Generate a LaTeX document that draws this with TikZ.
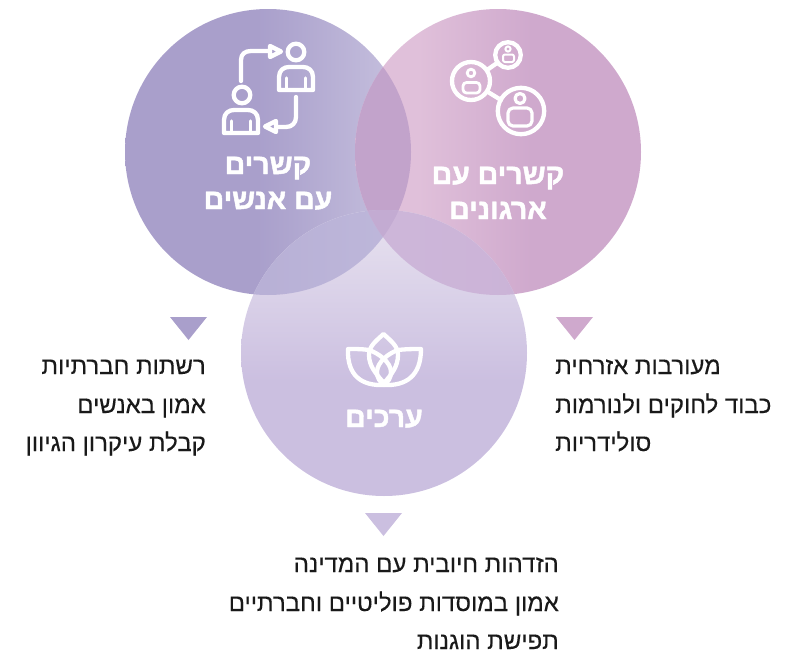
\documentclass[tikz,border=0pt]{standalone}
\usepackage{fontspec}
\setmainfont[Script=Hebrew,FakeBold=0.25]{Liberation Sans}
\newfontfamily\headfont[Script=Hebrew,FakeBold=1.6]{Liberation Sans Bold}
\TeXXeTstate=1
\usetikzlibrary{calc}
\definecolor{leftA}{HTML}{A99FCB}
\definecolor{leftM}{HTML}{AFA6CF}
\definecolor{leftB}{HTML}{C6C0DE}
\definecolor{rightA}{HTML}{E0C0DA}
\definecolor{rightB}{HTML}{CFA9CD}
\definecolor{botA}{HTML}{E8E3F0}
\definecolor{botB}{HTML}{CBBFE0}
\definecolor{ovLR}{HTML}{C2A3CB}
\definecolor{ovLBa}{HTML}{C3BEDF}
\definecolor{ovLBb}{HTML}{B7AFD5}
\definecolor{ovRBa}{HTML}{CFBADC}
\definecolor{ovRBb}{HTML}{CBB3D7}
\definecolor{ovAll}{HTML}{C3ABD2}
\pgfdeclarehorizontalshading{leftsh}{100bp}{color(0bp)=(leftA); color(25bp)=(leftA); color(48bp)=(leftA); color(54bp)=(leftM); color(73bp)=(leftB); color(100bp)=(leftB)}
\pgfdeclarehorizontalshading{rightsh}{100bp}{color(0bp)=(rightA); color(25bp)=(rightA); color(36bp)=(rightA); color(56bp)=(rightB); color(100bp)=(rightB)}
\pgfdeclareverticalshading{botsh}{100bp}{color(0bp)=(botB); color(25bp)=(botB); color(45bp)=(botB); color(75bp)=(botA); color(100bp)=(botA)}
\pgfdeclarehorizontalshading{lbsh}{100bp}{color(0bp)=(ovLBb); color(25bp)=(ovLBb); color(75bp)=(ovLBa); color(100bp)=(ovLBa)}
\pgfdeclarehorizontalshading{rbsh}{100bp}{color(0bp)=(ovRBa); color(25bp)=(ovRBa); color(75bp)=(ovRBb); color(100bp)=(ovRBb)}
\tikzset{
  x=1pt,y=-1pt,
  head/.style={font=\headfont\fontsize{28.5}{28.5}\selectfont,text=white,inner sep=0pt,anchor=base},
  body/.style={font=\fontsize{24}{24}\selectfont,text=black!90,inner sep=0pt},
  iconline/.style={draw=white,line width=4.3pt,line cap=round,line join=round,fill=none},
  thinicon/.style={iconline,line width=#1},
}
\newcommand{\personicon}[4]{%
  % #1 head x, #2 head y, #3 body centre x, #4 body top y
  \draw[iconline] (#1,#2) circle[radius=8.3];
  \draw[iconline] ({#3-17},{#4+23}) -- ({#3-17},{#4+10}) .. controls ({#3-17},{#4+3}) and ({#3-12},{#4}) .. ({#3-7},{#4}) -- ({#3+7},{#4}) .. controls ({#3+12},{#4}) and ({#3+17},{#4+3}) .. ({#3+17},{#4+10}) -- ({#3+17},{#4+23}) -- cycle;
  \draw[thinicon=3.4pt] ({#3-9.5},{#4+11}) -- ({#3-9.5},{#4+23}) ({#3+9.5},{#4+11}) -- ({#3+9.5},{#4+23});
}
\begin{document}
\begin{tikzpicture}
\useasboundingbox (0,0) rectangle (785,653);
\coordinate (L) at (268,152);
\coordinate (R) at (498,152);
\coordinate (B) at (384,353);
\def\rr{143}
\shade[shading=leftsh] (L) circle[radius=\rr];
\shade[shading=rightsh] (R) circle[radius=\rr];
\shade[shading=botsh] (B) circle[radius=\rr];
\begin{scope}
  \clip (L) circle[radius=\rr];
  \fill[ovLR] (R) circle[radius=\rr];
\end{scope}
\begin{scope}
  \clip (L) circle[radius=\rr];
  \shade[shading=lbsh] (B) circle[radius=\rr];
\end{scope}
\begin{scope}
  \clip (R) circle[radius=\rr];
  \shade[shading=rbsh] (B) circle[radius=\rr];
\end{scope}
\begin{scope}
  \clip (L) circle[radius=\rr];
  \clip (R) circle[radius=\rr];
  \fill[ovAll] (B) circle[radius=\rr];
\end{scope}

% triangles
\fill[leftA] (170,317) -- (207,317) -- (188.5,340) -- cycle;
\fill[rightB] (556,317) -- (593,317) -- (574.5,340) -- cycle;
\fill[botB] (365,513) -- (402,513) -- (383.5,536) -- cycle;

% icon: two people with arrows
\personicon{296}{52}{296}{67}
\personicon{242}{95}{241}{110}
\draw[iconline] (241,81) -- (241,60) .. controls (241,54) and (245,51) .. (251,51) -- (270,51);
\draw[iconline] (270,46) -- (281,51.5) -- (270,57) -- cycle;
\draw[iconline] (296,97) -- (296,117) .. controls (296,123) and (292,127) .. (286,127) -- (277,127);
\draw[iconline] (276,121) -- (265,126.5) -- (276,132) -- cycle;

% icon: network
\draw[iconline] (508,55) circle[radius=12.8];
\draw[iconline] (471,81) circle[radius=19];
\draw[iconline] (521,111) circle[radius=23.2];
\draw[iconline] (487,70) -- (497,63);
\draw[iconline] (488,92) -- (501,100);
\draw[thinicon=2pt] (508,49) circle[radius=2.6];
\draw[thinicon=2pt,rounded corners=2pt] (503,62) rectangle (514,54.5);
\draw[thinicon=2.8pt] (471,73) circle[radius=3.8];
\draw[thinicon=2.8pt,rounded corners=3.5pt] (463,93) rectangle (480,82.5);
\draw[thinicon=3.2pt] (520,98.5) circle[radius=5];
\draw[thinicon=3.2pt,rounded corners=5pt] (508,126) rectangle (532,108);

% icon: lotus
\draw[iconline] (383.5,334) .. controls (376,341) and (369,346) .. (369,355) .. controls (369,366) and (376,374) .. (384,383) .. controls (392,374) and (398,366) .. (398,355) .. controls (398,346) and (391,341) .. (383.5,334) -- cycle;
\draw[iconline] (384,385) .. controls (362,386) and (347,376) .. (348,349) .. controls (356,349) and (362,349) .. (369,350) .. controls (378,353) and (391,362) .. (391,372) .. controls (391,378) and (388,382) .. (384,385);
\draw[iconline] (384,385) .. controls (406,386) and (421,376) .. (421,349) .. controls (413,349) and (407,349) .. (398,350) .. controls (389,353) and (377,362) .. (377,372) .. controls (377,378) and (380,382) .. (384,385);

% headings
\node[head] (h1a) at (268,174) {\beginR קשרים\endR};
\node[head] (h1b) at (268,209) {\beginR עם אנשים\endR};
\node[head] (h2a) at (498,184) {\beginR קשרים עם\endR};
\node[head] (h2b) at (498,219) {\beginR ארגונים\endR};
\node[head] (h3) at (384,427) {\beginR ערכים\endR};

% left list
\node[body,anchor=base east] (l1) at (206,374) {\beginR רשתות חברתיות\endR};
\node[body,anchor=base east] (l2) at (206,413) {\beginR אמון באנשים\endR};
\node[body,anchor=base east] (l3) at (206,451) {\beginR קבלת עיקרון הגיוון\endR};
% right list
\node[body,anchor=base west] (r1) at (555,374) {\beginR מעורבות אזרחית\endR};
\node[body,anchor=base west] (r2) at (555,413) {\beginR כבוד לחוקים ולנורמות\endR};
\node[body,anchor=base west] (r3) at (555,451) {\beginR סולידריות\endR};
% bottom list
\node[body,anchor=base east] (b1) at (559,572) {\beginR הזדהות חיובית עם המדינה\endR};
\node[body,anchor=base east] (b2) at (559,611) {\beginR אמון במוסדות פוליטיים וחברתיים\endR};
\node[body,anchor=base east] (b3) at (559,649) {\beginR תפישת הוגנות\endR};
\end{tikzpicture}
\end{document}
